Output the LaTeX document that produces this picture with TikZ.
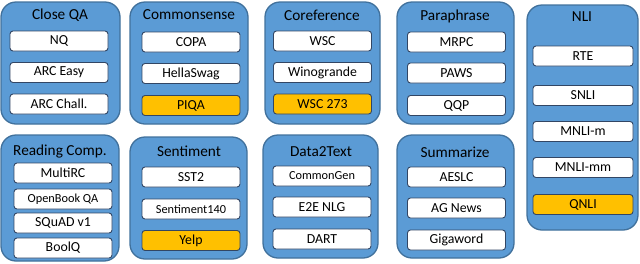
\documentclass[tikz,border=0pt]{standalone}
\usepackage{fontspec}
\setmainfont{Carlito}
\usepackage{tikz}
\definecolor{PanelBlue}{RGB}{91,155,213}
\definecolor{PanelEdge}{RGB}{65,113,156}
\definecolor{BoxEdge}{RGB}{50,70,100}
\definecolor{HeldOut}{RGB}{255,192,0}
\tikzset{
  group/.style={draw=PanelEdge,fill=PanelBlue,line width=1.3pt,rounded corners=15pt,inner sep=0pt},
  grouptitle/.style={font=\fontsize{15.3}{18}\selectfont,text=black},
  task/.style={draw=BoxEdge,fill=white,line width=0.9pt,rounded corners=3pt,minimum width=98pt,minimum height=20pt,inner sep=0pt,font=\fontsize{13.8}{16}\selectfont},
  smalltask/.style={task,font=\fontsize{12.3}{14}\selectfont},
  heldtask/.style={task,fill=HeldOut}
}
\begin{document}
\begin{tikzpicture}[x=1pt,y=-1pt]
\useasboundingbox (0,0) rectangle (640,263);

% panels, top row
\node[group,minimum width=119pt,minimum height=122pt] (closeqa) at (60.5,63) {};
\node[group,minimum width=118pt,minimum height=122pt] (commonsense) at (189,63) {};
\node[group,minimum width=115pt,minimum height=122pt] (coref) at (322.5,63) {};
\node[group,minimum width=117pt,minimum height=122pt] (para) at (455.5,63) {};
\node[group,minimum width=111pt,minimum height=225pt] (nli) at (582.5,117.5) {};
% panels, bottom row
\node[group,minimum width=118pt,minimum height=126pt] (reading) at (60,198) {};
\node[group,minimum width=117pt,minimum height=122pt] (sentiment) at (188.5,198) {};
\node[group,minimum width=115pt,minimum height=123pt] (datatext) at (320.5,196.5) {};
\node[group,minimum width=117pt,minimum height=123pt] (summ) at (455.5,196.5) {};

% titles
\node[grouptitle] (closeqaT) at (60,15) {Close QA};
\node[grouptitle] (commonsenseT) at (189,15) {Commonsense};
\node[grouptitle] (corefT) at (322,15) {Coreference};
\node[grouptitle] (paraT) at (455,16) {Paraphrase};
\node[grouptitle] (nliT) at (582,17) {NLI};
\node[grouptitle] (readingT) at (60,151) {Reading Comp.};
\node[grouptitle] (sentimentT) at (189,151) {Sentiment};
\node[grouptitle] (datatextT) at (321,152) {Data2Text};
\node[grouptitle] (summT) at (455,152) {Summarize};

% tasks
\node[task] (nq) at (59,41) {NQ};
\node[task] (arce) at (59,72.5) {ARC Easy};
\node[task] (arcc) at (59,104) {ARC Chall.};

\node[task] (copa) at (191,42) {COPA};
\node[task] (hella) at (191,73.5) {HellaSwag};
\node[heldtask] (piqa) at (191,105.5) {PIQA};

\node[task] (wsc) at (322.5,41) {WSC};
\node[task] (wino) at (322.5,72.5) {Winogrande};
\node[heldtask] (wsc273) at (322.5,104) {WSC 273};

\node[task] (mrpc) at (456.5,42) {MRPC};
\node[task] (paws) at (456.5,73) {PAWS};
\node[task] (qqp) at (456.5,105.5) {QQP};

\node[task,minimum width=100pt] (rte) at (583,56) {RTE};
\node[task,minimum width=100pt] (snli) at (583,95.5) {SNLI};
\node[task,minimum width=100pt] (mnlim) at (583,131.5) {MNLI-m};
\node[task,minimum width=100pt] (mnlimm) at (583,167.5) {MNLI-mm};
\node[heldtask,minimum width=100pt] (qnli) at (583,204.5) {QNLI};

\node[task] (multirc) at (63,173) {MultiRC};
\node[smalltask] (obqa) at (63,199) {OpenBook QA};
\node[task] (squad) at (63,223) {SQuAD v1};
\node[task] (boolq) at (63,248) {BoolQ};

\node[task] (sst) at (191,177) {SST2};
\node[smalltask] (sent140) at (191,209) {Sentiment140};
\node[heldtask] (yelp) at (191,240.5) {Yelp};

\node[smalltask] (cgen) at (322,176) {CommonGen};
\node[task] (e2e) at (322,207) {E2E NLG};
\node[task] (dart) at (322,239) {DART};

\node[task] (aeslc) at (456.5,177) {AESLC};
\node[task] (agnews) at (456.5,208) {AG News};
\node[task] (giga) at (456.5,240) {Gigaword};
\end{tikzpicture}
\end{document}
